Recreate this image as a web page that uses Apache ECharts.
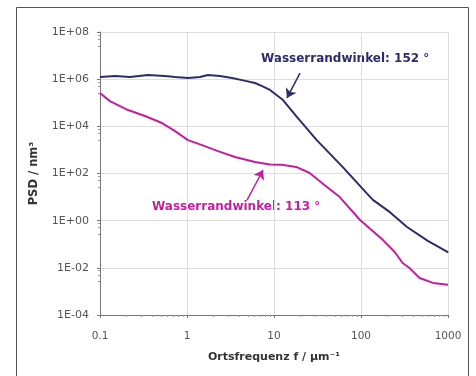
<!DOCTYPE html>
<html><head><meta charset="utf-8">
<script src="https://cdn.jsdelivr.net/npm/echarts@6/dist/echarts.min.js"></script>
<style>html,body{margin:0;padding:0;background:#fff}#c{width:476px;height:376px}</style>
</head><body><div id="c"></div>
<script>
// Spatial frequency f (µm^-1) and PSD (nm^3)
const freq152 = [0.1,0.149,0.221,0.356,0.558,0.73,1.026,1.41,1.74,2.39,3.3,4.28,6.05,7.3,8.99,12.7,18.3,31.0,61.8,116,137,215,338,586,985,1000];
const psd152  = [1.23e6,1.35e6,1.23e6,1.5e6,1.35e6,1.23e6,1.12e6,1.23e6,1.5e6,1.35e6,1.12e6,9.1e5,6.9e5,5.1e5,3.5e5,1.3e5,2.5e4,2.6e3,186,14.8,7.6,2.3,0.54,0.14,0.047,0.044];
const freq113 = [0.1,0.130,0.21,0.329,0.516,0.73,1.026,1.49,2.27,3.56,6.05,8.99,12.3,18.0,25.7,38.3,57.0,97.5,179,244,301,361,471,672,1000];
const psd113  = [2.6e5,1.17e5,4.9e4,2.75e4,1.38e4,6.3e3,2.6e3,1.6e3,890,500,310,240,235,190,105,32,10,1.07,0.15,0.047,0.016,0.0098,0.0037,0.0023,0.0019];
const yTicks = ['1E-04','1E-02','1E+00','1E+02','1E+04','1E+06','1E+08'];
const xTicks = ['0.1','1','10','100','1000'];
const name152 = 'Wasserrandwinkel: 152 °';
const name113 = 'Wasserrandwinkel: 113 °';
const arrow152 = [[19.9,1.8e6],[14.1,1.6e5]];
const arrow113 = [[4.9,7.5],[7.48,141]];

const NAVY = '#2d2c6a', MAG = '#c21fa0';
const font = 'DejaVu Sans, Verdana, sans-serif';
const chart = echarts.init(document.getElementById('c'));
function yFmt(v){ const e=Math.round(Math.log10(v)); const i=(e+4)/2; return yTicks[i]!==undefined?yTicks[i]:''; }
function xFmt(v){ const e=Math.round(Math.log10(v)); return xTicks[e+1]!==undefined?xTicks[e+1]:''; }
chart.setOption({
  animation:false,
  backgroundColor:'#fff',
  grid:{left:100,top:32,right:28,bottom:61},
  xAxis:{type:'log',logBase:10,min:0.1,max:1000,interval:1,
    name:'Ortsfrequenz f / µm⁻¹',nameLocation:'middle',nameGap:37,
    nameTextStyle:{fontFamily:font,fontSize:11,fontWeight:'bold',color:'#333'},
    axisLine:{lineStyle:{color:'#777',width:1}},
    axisTick:{show:true,length:3,lineStyle:{color:'#777'}},
    minorTick:{show:true,splitNumber:9,length:2,lineStyle:{color:'#999'}},
    axisLabel:{formatter:xFmt,fontFamily:font,fontSize:10.5,color:'#555',margin:16},
    splitLine:{show:true,lineStyle:{color:'#dedede',width:1}}},
  yAxis:{type:'log',logBase:10,min:1e-4,max:1e8,interval:2,
    name:'PSD / nm³',nameLocation:'middle',nameGap:60,nameRotate:90,
    nameTextStyle:{fontFamily:font,fontSize:11.5,fontWeight:'bold',color:'#333'},
    axisLine:{show:true,lineStyle:{color:'#777',width:1}},
    axisTick:{show:true,length:3,lineStyle:{color:'#777'}},
    minorTick:{show:true,splitNumber:4,length:2,lineStyle:{color:'#999'}},
    axisLabel:{formatter:yFmt,fontFamily:font,fontSize:11,color:'#555',margin:11},
    splitLine:{show:true,lineStyle:{color:'#dedede',width:1}}},
  series:[
    {name:name152,type:'line',showSymbol:false,data:freq152.map((f,i)=>[f,psd152[i]]),
     lineStyle:{color:NAVY,width:2},itemStyle:{color:NAVY},
     markLine:{silent:true,symbol:['none','arrow'],symbolSize:9,label:{show:false},
       lineStyle:{color:NAVY,width:1.5,type:'solid'},itemStyle:{color:NAVY},
       data:[[{coord:arrow152[0]},{coord:arrow152[1]}]]}},
    {name:name113,type:'line',showSymbol:false,data:freq113.map((f,i)=>[f,psd113[i]]),
     lineStyle:{color:MAG,width:2},itemStyle:{color:MAG},
     markLine:{silent:true,symbol:['none','arrow'],symbolSize:9,label:{show:false},
       lineStyle:{color:MAG,width:1.5,type:'solid'},itemStyle:{color:MAG},
       data:[[{coord:arrow113[0]},{coord:arrow113[1]}]]}}
  ],
  graphic:[
    {type:'rect',shape:{x:16.5,y:7.5,width:452,height:380},style:{fill:'none',stroke:'#555',lineWidth:1},silent:true},
    {type:'text',left:261,top:53,style:{text:name152,fill:NAVY,font:'bold 12px '+font}},
    {type:'text',left:152,top:201,style:{text:name113,fill:MAG,font:'bold 12px '+font}}
  ]
});
</script></body></html>
